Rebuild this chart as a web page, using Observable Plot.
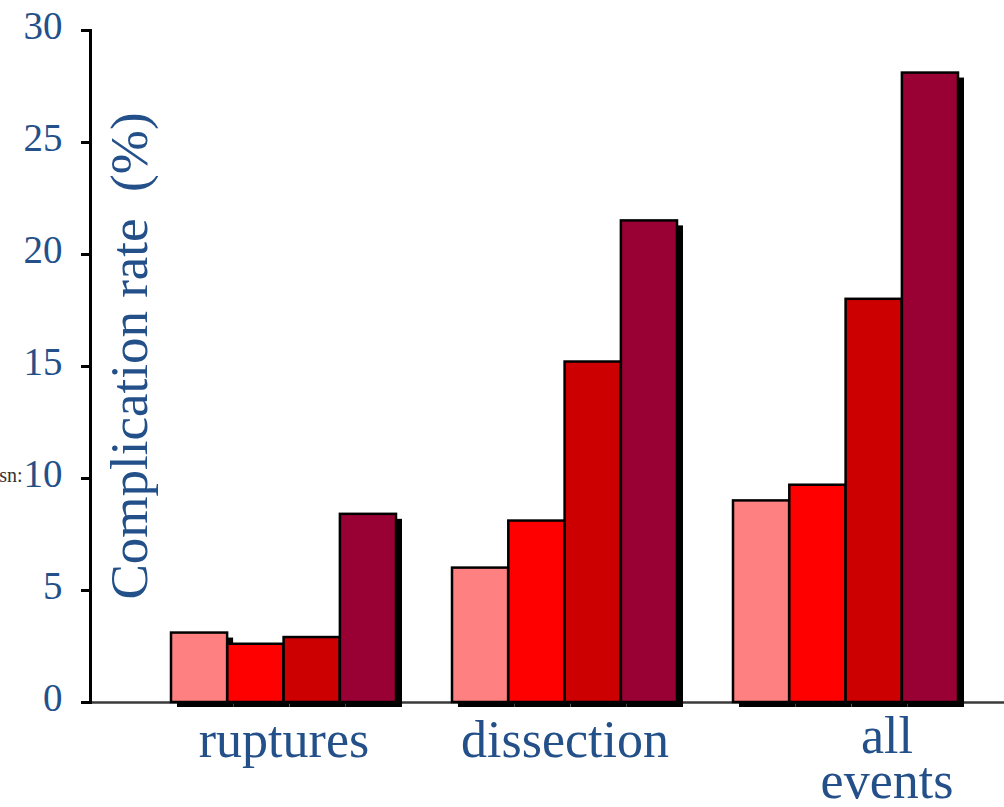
<!DOCTYPE html>
<html>
<head>
<meta charset="utf-8">
<script src="https://cdn.jsdelivr.net/npm/d3@7"></script>
<script src="https://cdn.jsdelivr.net/npm/@observablehq/plot@0.6"></script>
<style>
  html, body { margin: 0; padding: 0; background: #ffffff; }
  #chart { width: 1004px; height: 807px; overflow: hidden; }
</style>
</head>
<body>
<div id="chart"></div>
<script>
// ---- data ----
const groups = ["ruptures", "dissection", "all events"];
const groupLabels = ["ruptures", "dissection", "all\nevents"];
const series = ["A", "B", "C", "D"];
const seriesColors = ["#ff8080", "#ff0000", "#cc0000", "#990033"];
const ruptures = [3.1, 2.6, 2.9, 8.4];
const dissection = [6.0, 8.1, 15.2, 21.5];
const allEvents = [9.0, 9.7, 18.0, 28.1];
const yTicks = [0, 5, 10, 15, 20, 25, 30];
const yLabel = "Complication rate\u00a0 (%)";

const valuesByGroup = [ruptures, dissection, allEvents];
const data = groups.flatMap((g, gi) =>
  series.map((s, si) => ({group: g, series: s, value: valuesByGroup[gi][si]}))
);

const blue = "#24508a";
const serif = "'Liberation Serif', 'Times New Roman', Times, serif";

const W = 1004, H = 807, ML = 90, MR = 0;
const xOpts = {domain: groups, paddingInner: 0.2, paddingOuter: 0.2235, align: 0.64};
// bandwidth of the group scale, split evenly among the series
const bw = d3.scaleBand().domain(groups).range([ML, W - MR])
  .paddingInner(xOpts.paddingInner).paddingOuter(xOpts.paddingOuter).align(xOpts.align).bandwidth();
const slot = bw / series.length;

const seriesMarks = (extra) => series.map((s, i) =>
  Plot.barY(data.filter(d => d.series === s), {
    x: "group", y: "value",
    insetLeft: i * slot, insetRight: (series.length - 1 - i) * slot,
    ...extra
  })
);

const chart = Plot.plot({
  width: W,
  height: H,
  marginLeft: ML,
  marginRight: MR,
  marginTop: 30,
  marginBottom: 105,
  style: {background: "#ffffff", fontFamily: serif, overflow: "visible"},
  x: {...xOpts, axis: null},
  y: {domain: [0, 30], axis: null},
  color: {domain: series, range: seriesColors},
  marks: [
    Plot.ruleY([0], {stroke: "#3a3a3a", strokeWidth: 2.5}),
    ...seriesMarks({fill: "black", dx: 6, dy: 5}),
    ...seriesMarks({fill: "series", stroke: "black", strokeWidth: 2.5}),
    Plot.frame({anchor: "left", stroke: "black", strokeWidth: 3}),
    Plot.axisY(yTicks, {label: null, tickSize: 9, stroke: "black", strokeWidth: 3, fill: "none"}),
    Plot.axisY(yTicks, {label: null, tickSize: 0, tickPadding: 28, fill: blue, fontSize: 39, dy: -4}),
    Plot.text([yLabel], {frameAnchor: "left", textAnchor: "middle", rotate: -90, dx: 40, dy: -10.5, fontSize: 53, fill: blue}),
    Plot.text(groups.slice(0, 2), {
      x: d => d, text: (d, i) => groupLabels[i],
      frameAnchor: "bottom", lineAnchor: "top", dy: 18, fontSize: 52, fill: blue
    }),
    Plot.text([groups[2]], {
      x: d => d, text: () => groupLabels[2],
      frameAnchor: "bottom", lineAnchor: "top", dy: 18, dx: 41, fontSize: 52, lineHeight: 0.87, fill: blue
    }),
    Plot.text(["sn:"], {frameAnchor: "top-left", lineAnchor: "bottom", textAnchor: "end", dx: -68, dy: 451, fontSize: 20, fill: "#333"})
  ]
});
document.getElementById("chart").appendChild(chart);
</script>
</body>
</html>
